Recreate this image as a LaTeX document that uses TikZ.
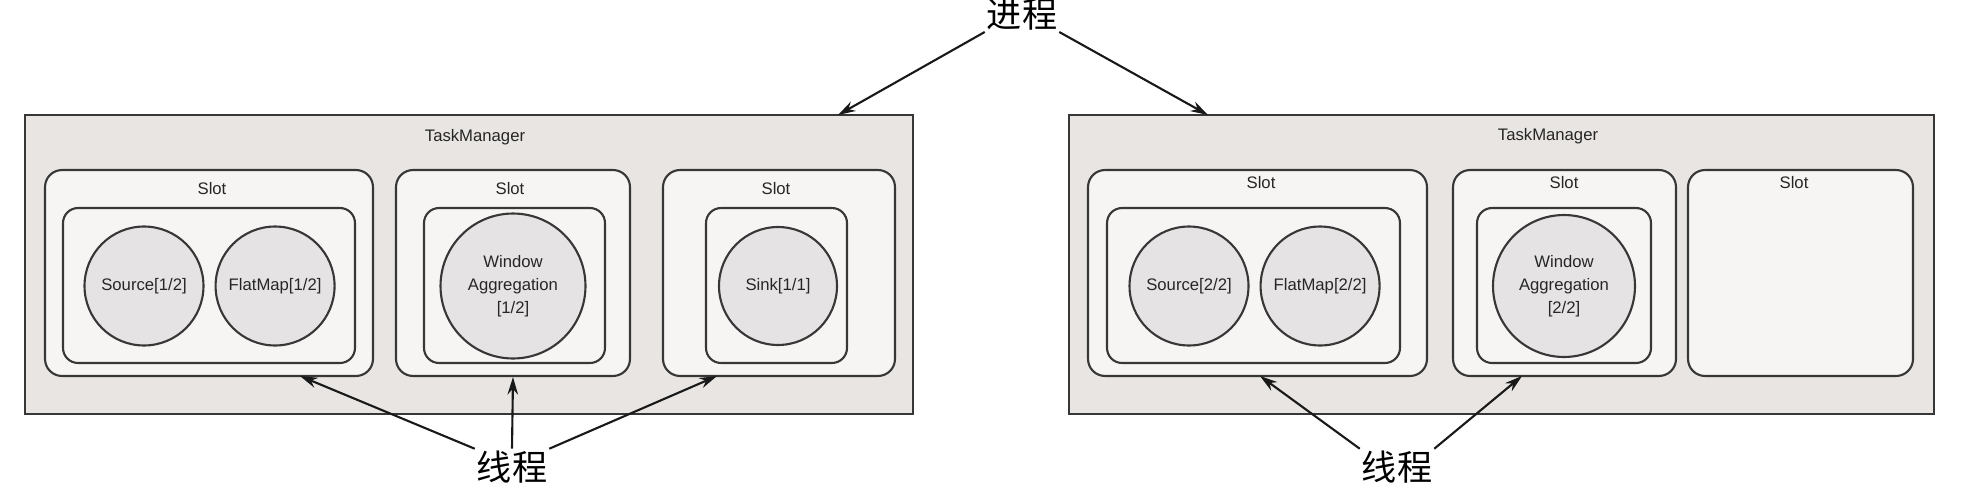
\documentclass[tikz,border=0pt]{standalone}
\usepackage{fontspec}
\setmainfont{Liberation Sans}
\newfontfamily\cjk{Noto Sans CJK SC}
\usetikzlibrary{shapes.geometric, arrows, arrows.meta, positioning, calc}

\definecolor{tmgray}{RGB}{232,229,226}
\definecolor{slotgray}{RGB}{247,245,243}
\definecolor{opgray}{RGB}{229,227,227}
\definecolor{edgegray}{RGB}{55,55,55}

\begin{document}
\begin{tikzpicture}[
            x=0.02cm, y=-0.02cm,
            node distance=0.2cm,
            % styles
            tmbox/.style={rectangle, draw=edgegray, line width=1.4pt, fill=tmgray, minimum height=5.98cm},
            slotbox/.style={rectangle, rounded corners=0.34cm, draw=edgegray, line width=1.2pt, fill=slotgray, minimum height=4.12cm},
            taskbox/.style={rectangle, rounded corners=0.3cm, draw=edgegray, line width=1.2pt, fill=slotgray, minimum height=3.10cm},
            opnode/.style={circle, draw=edgegray, line width=1.2pt, fill=opgray, inner sep=0pt, minimum size=2.38cm, align=center, text=black!85, font=\fontsize{9.5}{13}\selectfont},
            boxlabel/.style={text=black!85, font=\fontsize{9.5}{12}\selectfont},
            cnlabel/.style={inner sep=1pt, font=\cjk\fontsize{20}{20}\selectfont},
            arrow/.style={line width=1.2pt, draw=black!90, -{Stealth[length=10pt, width=6pt]}}
        ]
        \useasboundingbox (0,0) rectangle (1988,494);

        % left TaskManager
        \node (tm1) [tmbox, minimum width=17.76cm] at (469,264.5) {};
        \node (tm1label) [boxlabel] at (475,137) {TaskManager};

        \node (s11) [slotbox, minimum width=6.56cm] at (209,273) {};
        \node (s12) [slotbox, minimum width=4.68cm] at (513,273) {};
        \node (s13) [slotbox, minimum width=4.64cm] at (779,273) {};
        \node (s11label) [boxlabel] at (212,189) {Slot};
        \node (s12label) [boxlabel] at (510,189) {Slot};
        \node (s13label) [boxlabel] at (776,189) {Slot};

        \node (i11) [taskbox, minimum width=5.84cm] at (209,285.5) {};
        \node (i12) [taskbox, minimum width=3.62cm] at (514.5,285.5) {};
        \node (i13) [taskbox, minimum width=2.82cm] at (776.5,285.5) {};

        \node (src1)  [opnode] at (144,286) {Source[1/2]};
        \node (flat1) [opnode, right=of src1] {FlatMap[1/2]};
        \node (win1)  [opnode, minimum size=2.9cm] at (513,286) {Window\\Aggregation\\{[1/2]}};
        \node (sink1) [opnode, minimum size=2.36cm] at (778,286) {Sink[1/1]};

        % right TaskManager
        \node (tm2) [tmbox, minimum width=17.30cm] at (1501.5,264.5) {};
        \node (tm2label) [boxlabel] at (1548,136) {TaskManager};

        \node (s21) [slotbox, minimum width=6.78cm] at (1257.5,273) {};
        \node (s22) [slotbox, minimum width=4.46cm] at (1564.5,273) {};
        \node (s23) [slotbox, minimum width=4.50cm] at (1800.5,273) {};
        \node (s21label) [boxlabel] at (1261,183) {Slot};
        \node (s22label) [boxlabel] at (1564,183) {Slot};
        \node (s23label) [boxlabel] at (1794,183) {Slot};

        \node (i21) [taskbox, minimum width=5.86cm] at (1253.5,285.5) {};
        \node (i22) [taskbox, minimum width=3.48cm] at (1564,285.5) {};

        \node (src2)  [opnode] at (1189,286) {Source[2/2]};
        \node (flat2) [opnode, right=of src2] {FlatMap[2/2]};
        \node (win2)  [opnode, minimum size=2.84cm] at (1564,286) {Window\\Aggregation\\{[2/2]}};

        % process label
        \node (proc) [cnlabel] at (1022,14) {进程};
        \coordinate (p1) at (838,115);
        \coordinate (p2) at (1208,115);
        \draw [arrow] (proc.south west) -- (p1);
        \draw [arrow] (proc.south east) -- (p2);

        % thread labels
        \node (thr1) [cnlabel] at (512,467) {线程};
        \node (thr2) [cnlabel] at (1397,467) {线程};
        \coordinate (t11) at (300,376);
        \coordinate (t13) at (717,376);
        \coordinate (t21) at (1260,376);
        \coordinate (t22) at (1522,376);

        \draw [arrow] (thr1.north west) -- (t11);
        \draw [arrow] (thr1.north) -- (s12.south);
        \draw [arrow] (thr1.north east) -- (t13);
        \draw [arrow] (thr2.north west) -- (t21);
        \draw [arrow] (thr2.north east) -- (t22);

\end{tikzpicture}
\end{document}
